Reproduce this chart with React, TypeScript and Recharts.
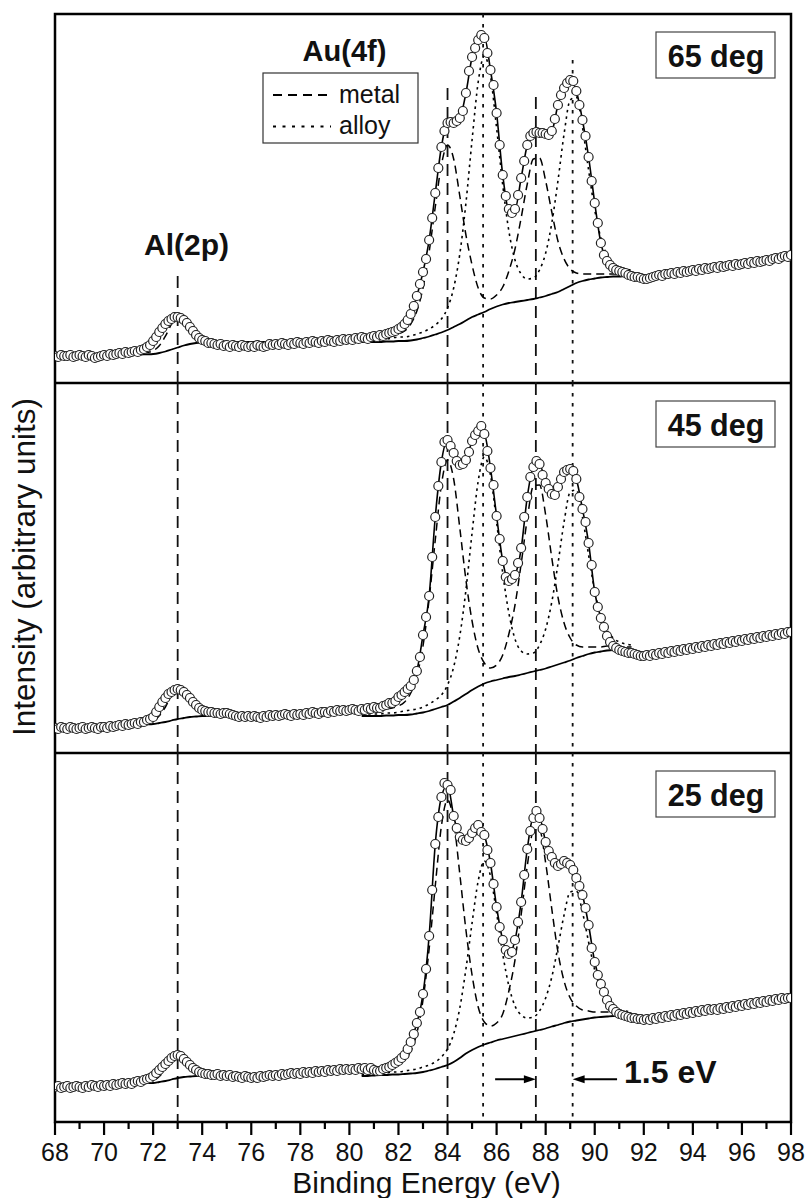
import React from 'react';
import { ComposedChart, Line, Scatter, XAxis, YAxis, ReferenceLine, ReferenceArea } from 'recharts';

const FONT = '"Liberation Sans", Arial, Helvetica, sans-serif';

// sampling grids (binding energy, eV)
const E_START = 68;
const E_STEP = 0.125;
const FIT_START = 80.5;
const FIT_STEP = 0.25;
const AL_START = 70;
const AL_STEP = 0.25;

const xTicks = [68, 69, 70, 71, 72, 73, 74, 75, 76, 77, 78, 79, 80, 81, 82, 83, 84, 85, 86, 87, 88, 89, 90, 91, 92, 93, 94, 95, 96, 97, 98];

// guide lines: Al 2p, Au metal 4f7/2, alloy 4f7/2, metal 4f5/2, alloy 4f5/2
const guideEnergies = [73.0, 84.0, 85.45, 87.6, 89.1];
const guideKinds = ['metal', 'metal', 'alloy', 'metal', 'alloy'];
const guideTops65 = [107, 295, 369, 286, 323];

const panelLabels = ['65 deg', '45 deg', '25 deg'];
const shiftArrows = [[85.94, 87.6], [90.91, 89.1]];
const arrowLevel = 42.7;

// ---------- 65 deg ----------
const counts65 = [
  27, 26, 28, 27, 27, 28, 26, 27,
  28, 27, 26, 28, 27, 25, 26, 27,
  28, 27, 29, 28, 29, 30, 29, 31,
  30, 31, 32, 31, 33, 34, 36, 38,
  42, 46, 51, 55, 59, 62, 64, 66,
  66, 65, 63, 60, 56, 52, 48, 45,
  43, 42, 40, 40, 39, 38, 39, 37,
  38, 36, 38, 37, 36, 38, 37, 36,
  37, 36, 38, 37, 36, 37, 39, 38,
  39, 38, 40, 39, 38, 40, 39, 41,
  40, 39, 41, 40, 42, 41, 40, 42,
  41, 43, 42, 41, 43, 42, 44, 43,
  44, 43, 45, 44, 46, 45, 44, 46,
  47, 46, 48, 47, 49, 50, 51, 52,
  54, 56, 59, 63, 69, 77, 87, 99,
  111, 124, 143, 165, 190, 215, 236, 252,
  260, 261, 260, 262, 265, 272, 290, 312,
  326, 335, 343, 348, 345, 330, 313, 298,
  270, 238, 208, 187, 174, 170, 174, 188,
  205, 222, 238, 247, 250, 251, 250, 250,
  249, 248, 252, 264, 278, 288, 295, 300,
  303, 302, 292, 278, 263, 247, 226, 202,
  180, 160, 140, 128, 122, 118, 115, 113,
  112, 111, 110, 108, 107, 106, 106, 105,
  104, 104, 105, 106, 107, 108, 107, 109,
  109, 110, 109, 111, 110, 112, 111, 112,
  113, 112, 114, 113, 115, 114, 115, 116,
  115, 117, 116, 117, 118, 117, 119, 118,
  119, 120, 119, 121, 120, 122, 121, 122,
  123, 122, 124, 125, 124, 126, 127, 126,
  128,
];
const fit65 = [45, 46, 47, 48, 50, 52, 54, 59, 69, 87, 111, 143, 190, 236, 260, 260, 265, 290, 326, 343, 346, 313, 270, 208, 174, 174, 205, 238, 250, 250, 249, 252, 278, 295, 303, 292, 263, 226, 180, 140, 122, 115, 112, 110, 107];
const bg65 = [41, 41, 41, 41, 41.5, 41.5, 42, 42, 42.5, 43.5, 45, 46.5, 48.5, 50.5, 53, 56, 59, 62.5, 66, 68.5, 71, 74, 76.5, 78.5, 80, 81, 82, 83, 84, 85.5, 87, 89, 91, 94, 97, 100, 102, 103.5, 104.5, 105.5, 106, 106.5, 106.5, 107, 107];
const metal65 = [44, 44, 44, 45, 46, 47, 49, 52, 59, 72, 95, 131, 176, 218, 238, 224, 187, 148, 118, 95, 85, 84, 88, 96, 112, 134, 165, 199, 224, 225, 202, 171, 142, 124, 114, 110, 109, 109, 109, 109, 109, 109, 109, 109, 109];
const alloy65 = [43, 43, 43, 44, 44, 45, 46, 46, 47, 49, 51, 54, 58, 64, 75, 95, 129, 180, 243, 301, 327, 307, 255, 198, 152, 123, 109, 104, 105, 113, 130, 160, 202, 249, 283, 286, 256, 213, 173, 145, 128, 120, 116, 114, 113];
const alBg65 = [27, 27.2, 27.5, 27.7, 28, 28.2, 28.5, 28.7, 29, 30, 31.5, 33.5, 35.5, 37.5, 39, 40, 40.5, 40.8, 41, 41, 41, 41, 41, 41, 41, 41, 41, 41];
const alPeak65 = [27.1, 27.3, 27.7, 28, 28.5, 28.9, 29.5, 30.4, 32.2, 37.3, 46.8, 58.8, 66, 62.8, 54.3, 47.3, 43.7, 42.3, 42, 41.7, 41.5, 41.4, 41.3, 41.3, 41.2, 41.2, 41.1, 41.1];

// ---------- 45 deg ----------
const counts45 = [
  25, 24, 26, 25, 24, 26, 25, 24,
  25, 26, 24, 25, 26, 25, 24, 26,
  26, 25, 27, 26, 27, 28, 27, 29,
  28, 29, 30, 29, 31, 31, 33, 34,
  36, 41, 46, 51, 55, 59, 61, 63,
  64, 63, 61, 58, 55, 51, 48, 45,
  43, 42, 41, 41, 40, 40, 39, 40,
  40, 39, 38, 37, 36, 37, 36, 37,
  36, 37, 36, 35, 37, 36, 38, 37,
  38, 37, 38, 39, 38, 37, 39, 38,
  39, 38, 40, 39, 41, 40, 39, 41,
  41, 40, 42, 41, 43, 42, 43, 42,
  43, 44, 43, 42, 44, 43, 45, 44,
  46, 45, 45, 47, 48, 50, 50, 52,
  56, 58, 61, 64, 67, 73, 82, 96,
  118, 136, 157, 196, 236, 267, 291, 311,
  313, 307, 300, 292, 288, 289, 293, 301,
  312, 318, 322, 327, 319, 302, 285, 268,
  237, 214, 192, 176, 172, 174, 178, 190,
  205, 236, 256, 276, 286, 292, 289, 278,
  270, 264, 259, 258, 266, 274, 281, 283,
  284, 282, 274, 256, 244, 231, 210, 188,
  161, 146, 135, 126, 117, 111, 107, 105,
  103, 102, 101, 100, 100, 99, 98, 97,
  97, 98, 97, 99, 98, 100, 99, 101,
  100, 102, 101, 103, 102, 104, 103, 105,
  104, 106, 105, 107, 106, 108, 107, 109,
  108, 110, 109, 111, 110, 112, 111, 113,
  112, 114, 113, 115, 114, 116, 115, 117,
  116, 118, 117, 119, 118, 120, 119, 121,
  121,
];
const fit45 = [44, 45, 46, 46, 48, 51, 56, 61, 67, 82, 118, 157, 236, 291, 313, 300, 288, 293, 312, 322, 319, 285, 237, 192, 172, 178, 204, 256, 286, 289, 270, 259, 266, 281, 284, 274, 244, 210, 161, 135, 117, 107, 103, 101, 100];
const bg45 = [37, 37, 37, 37, 37.5, 37.5, 38, 38, 38.5, 39.5, 40.5, 42, 44, 46, 48, 51.5, 55, 59, 63, 66.5, 69.5, 71.5, 73, 74.5, 76, 77, 78.5, 80, 81.5, 83, 84.5, 86.5, 88.5, 90.5, 92.5, 95, 97, 99, 100.5, 101.5, 102.5, 103, 103, 103, 103];
const metal45 = [40, 41, 41, 42, 44, 45, 47, 51, 60, 77, 107, 154, 213, 268, 293, 274, 225, 173, 132, 104, 90, 85, 88, 98, 119, 148, 189, 234, 267, 268, 238, 195, 156, 130, 115, 108, 106, 106, 106, 106, 107, 107, 106, 106, 106];
const alloy45 = [39, 39, 39, 39, 40, 40, 41, 42, 43, 44, 46, 49, 53, 58, 68, 86, 117, 163, 220, 272, 296, 278, 231, 180, 140, 114, 102, 99, 100, 108, 124, 151, 189, 231, 261, 263, 236, 198, 162, 137, 123, 115, 111, 109, 108];
const alBg45 = [26, 26.4, 26.8, 27.1, 27.5, 27.9, 28.3, 28.6, 29, 30, 31, 32.5, 34, 35, 36, 36.5, 37, 37, 37, 37, 37, 37, 37, 37, 37, 37, 37, 37];
const alPeak45 = [26.1, 26.5, 27, 27.4, 28, 28.6, 29.2, 30.1, 32.1, 37.2, 46, 57.4, 64, 59.9, 51, 43.7, 40.1, 38.5, 37.9, 37.7, 37.5, 37.4, 37.3, 37.3, 37.2, 37.2, 37.2, 37.1];

// ---------- 25 deg ----------
const counts25 = [
  35, 36, 34, 35, 36, 34, 35, 36,
  35, 34, 36, 35, 37, 36, 35, 37,
  36, 37, 36, 38, 37, 38, 39, 38,
  39, 38, 40, 41, 40, 42, 43, 44,
  46, 49, 52, 55, 58, 61, 64, 66,
  67, 66, 63, 60, 57, 54, 52, 50,
  49, 48, 48, 47, 47, 48, 46, 47,
  46, 47, 45, 46, 45, 44, 46, 45,
  44, 45, 44, 46, 45, 46, 47, 46,
  47, 46, 48, 47, 48, 49, 48, 49,
  48, 50, 49, 50, 49, 51, 50, 51,
  50, 52, 51, 52, 51, 53, 52, 53,
  52, 53, 52, 54, 53, 54, 52, 54,
  52, 51, 51, 53, 54, 55, 57, 59,
  61, 64, 67, 73, 80, 88, 99, 110,
  128, 153, 186, 232, 278, 305, 325, 339,
  337, 332, 306, 294, 285, 282, 281, 284,
  289, 294, 297, 290, 287, 272, 259, 238,
  215, 195, 182, 172, 168, 170, 182, 200,
  220, 247, 273, 291, 304, 311, 304, 293,
  280, 271, 265, 259, 256, 258, 261, 259,
  257, 252, 244, 236, 227, 214, 197, 174,
  160, 147, 138, 130, 122, 116, 113, 110,
  108, 107, 106, 105, 104, 104, 103, 103,
  102, 103, 102, 104, 103, 105, 104, 106,
  105, 107, 106, 108, 107, 109, 108, 110,
  109, 111, 110, 112, 111, 113, 112, 113,
  112, 114, 113, 115, 114, 116, 115, 117,
  116, 118, 117, 119, 118, 120, 119, 121,
  120, 122, 121, 123, 122, 124, 123, 124,
  124,
];
const fit25 = [52, 52, 52, 51, 54, 57, 61, 67, 80, 99, 128, 186, 278, 325, 337, 306, 285, 281, 289, 297, 287, 259, 215, 182, 168, 182, 220, 273, 304, 304, 280, 265, 256, 261, 257, 244, 227, 197, 160, 138, 122, 113, 108, 106, 104];
const bg25 = [46, 46, 46.5, 47, 47, 47.5, 47.5, 48, 48.5, 49, 50, 51.5, 53, 55, 57, 60, 64, 68.5, 72, 75, 77.5, 79.5, 81.5, 83, 84.5, 86, 87.5, 89, 90.5, 92, 93.5, 95.5, 97, 99, 100.5, 101.5, 102.5, 103.5, 104.5, 105, 105.5, 106, 106, 106, 106];
const metal25 = [50, 50, 51, 53, 54, 55, 58, 62, 71, 89, 122, 173, 236, 296, 322, 301, 248, 192, 147, 115, 100, 96, 99, 108, 131, 162, 207, 256, 291, 292, 259, 213, 170, 141, 124, 116, 112, 111, 110, 110, 110, 110, 109, 109, 109];
const alloy25 = [47, 48, 48, 49, 49, 50, 50, 51, 52, 53, 55, 57, 60, 65, 73, 88, 114, 153, 199, 241, 261, 246, 209, 168, 136, 116, 107, 104, 105, 111, 124, 145, 175, 207, 230, 231, 210, 180, 152, 133, 121, 115, 112, 111, 110];
const alBg25 = [37, 37.3, 37.5, 37.8, 38, 38.3, 38.5, 38.8, 39, 40, 41, 42.5, 44, 45, 45.5, 46, 46, 46, 46, 46, 46, 46, 46, 46, 46, 46, 46, 46];
const alPeak25 = [37.1, 37.4, 37.7, 38, 38.4, 38.8, 39.2, 40, 41.4, 45.5, 52.5, 61.6, 67, 64.1, 57, 51.5, 48.4, 47.2, 46.7, 46.5, 46.4, 46.3, 46.2, 46.2, 46.1, 46.1, 46.1, 46.1];

type Pt = { e: number; v: number };
const toPts = (vals: number[], start: number, step: number): Pt[] =>
  vals.map((v, i) => ({ e: start + i * step, v }));

function Ring(props: any) {
  const { cx, cy } = props;
  if (cx == null || cy == null) return null;
  return <circle cx={cx} cy={cy} r={4.5} fill="#fff" stroke="#222" strokeWidth={1.2} />;
}

function XTick(props: any) {
  const { x, y, payload } = props;
  const v = payload.value;
  const major = v % 2 === 0;
  return (
    <g>
      <line x1={x} x2={x} y1={y} y2={y + (major ? 13 : 7)} stroke="#000" strokeWidth={2.2} />
      {major && (
        <text x={x} y={y + 39} textAnchor="middle" fontSize={25} fontFamily={FONT} fill="#111">
          {v}
        </text>
      )}
    </g>
  );
}

function Arrow(props: any) {
  const { x1, y1, x2, y2 } = props;
  const dir = x2 > x1 ? 1 : -1;
  const hl = 12;
  const hw = 4;
  return (
    <g>
      <line x1={x1} y1={y1} x2={x2 - dir * 6} y2={y2} stroke="#000" strokeWidth={2} />
      <polygon points={`${x2},${y2} ${x2 - dir * hl},${y2 - hw} ${x2 - dir * hl},${y2 + hw}`} fill="#000" />
    </g>
  );
}

interface PanelProps {
  top: number;
  height: number;
  ymax: number;
  counts: number[];
  fit: number[];
  bg: number[];
  metal: number[];
  alloy: number[];
  alBg: number[];
  alPeak: number[];
  marginTop?: number;
  guideTops?: number[];
  showAxis?: boolean;
  arrows?: boolean;
}

function SpectrumPanel(p: PanelProps) {
  return (
    <div style={{ position: 'absolute', left: 0, top: p.top }}>
      <ComposedChart width={807} height={p.height} margin={{ top: p.marginTop || 0, right: 16, bottom: 0, left: 55 }}>
        <XAxis
          dataKey="e"
          type="number"
          domain={[68, 98]}
          ticks={xTicks}
          interval={0}
          hide={!p.showAxis}
          height={76}
          axisLine={false}
          tickLine={false}
          tickSize={0}
          tickMargin={0}
          tick={(t: any) => <XTick {...t} />}
          allowDataOverflow
        />
        <YAxis type="number" domain={[0, p.ymax]} hide allowDataOverflow />
        <ReferenceArea x1={68} x2={98} y1={0} y2={p.ymax} fill="none" stroke="#000" strokeWidth={2.5} ifOverflow="visible" />
        {guideEnergies.map((x, i) => (
          <ReferenceLine
            key={x}
            segment={[{ x, y: p.guideTops ? p.guideTops[i] : p.ymax }, { x, y: 0 }]}
            stroke="#111"
            strokeWidth={1.8}
            strokeDasharray={guideKinds[i] === 'alloy' ? '3.5 6.5' : '12 7'}
          />
        ))}
        {p.arrows &&
          shiftArrows.map(([a, b]) => (
            <ReferenceLine key={a} segment={[{ x: a, y: arrowLevel }, { x: b, y: arrowLevel }]} shape={(s: any) => <Arrow {...s} />} />
          ))}
        <Line data={toPts(p.bg, FIT_START, FIT_STEP)} dataKey="v" type="monotone" stroke="#000" strokeWidth={1.8} dot={false} isAnimationActive={false} />
        <Line data={toPts(p.metal, FIT_START, FIT_STEP)} dataKey="v" type="monotone" stroke="#000" strokeWidth={1.5} strokeDasharray="8 5" dot={false} isAnimationActive={false} />
        <Line data={toPts(p.alloy, FIT_START, FIT_STEP)} dataKey="v" type="monotone" stroke="#000" strokeWidth={1.6} strokeDasharray="2.5 4" dot={false} isAnimationActive={false} />
        <Line data={toPts(p.fit, FIT_START, FIT_STEP)} dataKey="v" type="monotone" stroke="#000" strokeWidth={1.6} dot={false} isAnimationActive={false} />
        <Line data={toPts(p.alBg, AL_START, AL_STEP)} dataKey="v" type="monotone" stroke="#000" strokeWidth={1.8} dot={false} isAnimationActive={false} />
        <Line data={toPts(p.alPeak, AL_START, AL_STEP)} dataKey="v" type="monotone" stroke="#000" strokeWidth={1.5} strokeDasharray="8 5" dot={false} isAnimationActive={false} />
        <Scatter data={toPts(p.counts, E_START, E_STEP)} dataKey="v" shape={(s: any) => <Ring {...s} />} isAnimationActive={false} />
      </ComposedChart>
    </div>
  );
}

export default function App() {
  const boxTops = [32, 401, 771];
  return (
    <div style={{ position: 'absolute', left: 0, top: 0, width: 807, height: 1198, background: '#fff', overflow: 'hidden' }}>
      <SpectrumPanel top={0} height={383} marginTop={14} ymax={369} counts={counts65} fit={fit65} bg={bg65} metal={metal65} alloy={alloy65} alBg={alBg65} alPeak={alPeak65} guideTops={guideTops65} />
      <SpectrumPanel top={383} height={370} ymax={370} counts={counts45} fit={fit45} bg={bg45} metal={metal45} alloy={alloy45} alBg={alBg45} alPeak={alPeak45} />
      <SpectrumPanel top={753} height={445} ymax={369} counts={counts25} fit={fit25} bg={bg25} metal={metal25} alloy={alloy25} alBg={alBg25} alPeak={alPeak25} showAxis arrows />
      <svg width={807} height={1198} style={{ position: 'absolute', left: 0, top: 0, pointerEvents: 'none' }} fontFamily={FONT} fill="#111">
        <text x={344.5} y={60.5} textAnchor="middle" fontSize={29} fontWeight="bold">Au(4f)</text>
        <text x={186.5} y={255} textAnchor="middle" fontSize={30} fontWeight="bold">Al(2p)</text>
        <rect x={263} y={73} width={155} height={70} fill="#fff" stroke="#333" strokeWidth={1.2} />
        <line x1={273} x2={333} y1={95} y2={95} stroke="#000" strokeWidth={1.8} strokeDasharray="9 6" />
        <text x={339} y={103} fontSize={25}>metal</text>
        <line x1={273} x2={331} y1={126.5} y2={126.5} stroke="#000" strokeWidth={1.8} strokeDasharray="3 6.5" />
        <text x={339} y={133.5} fontSize={25}>alloy</text>
        {panelLabels.map((lab, i) => (
          <g key={lab}>
            <rect x={656} y={boxTops[i]} width={119} height={46} fill="#fff" stroke="#444" strokeWidth={1.2} />
            <text x={716} y={boxTops[i] + 34.5} textAnchor="middle" fontSize={30.5} fontWeight="bold">{lab}</text>
          </g>
        ))}
        <text x={624} y={1083} fontSize={32} fontWeight="bold">1.5 eV</text>
        <text x={426.5} y={1193} textAnchor="middle" fontSize={30}>Binding Energy (eV)</text>
        <text transform="translate(35,567) rotate(-90)" textAnchor="middle" fontSize={31.5}>Intensity (arbitrary units)</text>
      </svg>
    </div>
  );
}
